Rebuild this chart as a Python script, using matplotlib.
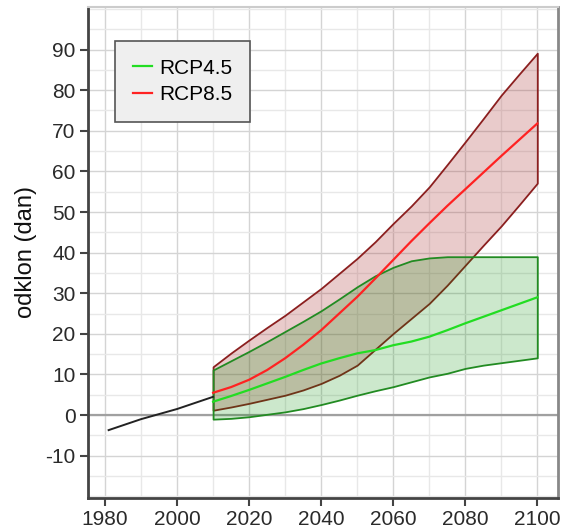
import matplotlib
matplotlib.use('Agg')
import matplotlib.pyplot as plt
from matplotlib.ticker import MultipleLocator
import numpy as np

plt.rcParams['font.family'] = ['Liberation Sans', 'DejaVu Sans']
plt.rcParams['axes.unicode_minus'] = False

# observed (historical) line
hist_years = [1981, 1990, 2000, 2010]
hist_vals = [-3.7, -1.0, 1.5, 4.5]

# scenario projections, 5-year steps
proj_years = list(range(2010, 2101, 5))

rcp45_mid = [3.3, 4.7, 6.2, 7.8, 9.4, 11.1, 12.7, 14.0, 15.2, 16.0,
             17.2, 18.1, 19.3, 20.9, 22.6, 24.2, 25.8, 27.4, 29.0]
rcp45_low = [-1.0, -0.8, -0.4, 0.2, 0.8, 1.6, 2.6, 3.7, 4.9, 6.0,
             7.0, 8.2, 9.4, 10.3, 11.5, 12.3, 12.9, 13.5, 14.1]
rcp45_high = [11.1, 13.4, 15.7, 18.1, 20.6, 23.1, 25.7, 28.6, 31.6, 34.3,
              36.4, 38.0, 38.7, 39.0, 39.0, 39.0, 39.0, 39.0, 39.0]

rcp85_mid = [5.5, 6.9, 8.7, 11.1, 14.0, 17.3, 20.9, 25.0, 29.1, 33.6,
             38.2, 42.8, 47.2, 51.5, 55.6, 59.7, 63.8, 67.8, 71.8]
rcp85_low = [1.2, 2.0, 2.9, 3.9, 4.9, 6.2, 7.8, 9.8, 12.3, 16.2,
             20.1, 23.8, 27.5, 32.0, 36.9, 41.8, 46.6, 51.8, 57.1]
rcp85_high = [11.9, 15.3, 18.5, 21.6, 24.6, 27.9, 31.2, 34.9, 38.6, 42.7,
              47.2, 51.5, 56.2, 61.7, 67.3, 73.0, 78.8, 84.0, 89.1]

fig = plt.figure(figsize=(5.61, 5.32), dpi=100)
ax = fig.add_axes([0.157, 0.064, 0.838, 0.923])

# bands
ax.fill_between(proj_years, rcp85_low, rcp85_high, facecolor=(0.65, 0.16, 0.16, 0.24),
                edgecolor='#8b1f1f', linewidth=1.3, zorder=2)
ax.fill_between(proj_years, rcp45_low, rcp45_high, facecolor=(0.0, 0.55, 0.0, 0.2),
                edgecolor='#228b22', linewidth=1.3, zorder=3)

# zero line
ax.axhline(0, color='#a0a0a0', linewidth=1.6, zorder=1)

# medians
ax.plot(proj_years, rcp45_mid, color='#22dd22', linewidth=1.6, zorder=4, label='RCP4.5')
ax.plot(proj_years, rcp85_mid, color='#ff2222', linewidth=1.6, zorder=4, label='RCP8.5')
ax.plot(hist_years, hist_vals, color='#222222', linewidth=1.4, zorder=4)

ax.set_xlim(1975.3, 2105.8)
ax.set_ylim(-20.4, 100.5)
ax.xaxis.set_major_locator(MultipleLocator(20))
ax.xaxis.set_minor_locator(MultipleLocator(10))
ax.set_yticks(np.arange(-10, 91, 10))
ax.yaxis.set_minor_locator(MultipleLocator(5))

ax.grid(True, which='major', color='#d4d4d4', linewidth=1.0, zorder=0)
ax.grid(True, which='minor', color='#e8e8e8', linewidth=1.0, zorder=0)
ax.set_axisbelow(True)

ax.tick_params(axis='both', which='major', labelsize=15, length=6, width=1.5,
               color='#444444', labelcolor='#2a2a2a', pad=3)
ax.tick_params(axis='both', which='minor', length=0)

for side in ['left', 'bottom']:
    ax.spines[side].set_color('#444444')
    ax.spines[side].set_linewidth(2)
ax.spines['top'].set_color('#cccccc')
ax.spines['top'].set_linewidth(1.5)
ax.spines['right'].set_color('#888888')
ax.spines['right'].set_linewidth(2)

ax.set_ylabel('odklon (dan)', fontsize=17, color='#111111', labelpad=6)

leg = ax.legend(loc='upper left', bbox_to_anchor=(0.057, 0.931), fontsize=15,
                frameon=True, fancybox=False, handlelength=0.95, handletextpad=0.35,
                borderpad=0.85, labelspacing=0.35, borderaxespad=0)
leg.get_frame().set_facecolor('#efefef')
leg.get_frame().set_edgecolor('#555555')
leg.get_frame().set_linewidth(1.2)
leg.get_frame().set_alpha(1)

plt.savefig('out.png', dpi=100)
